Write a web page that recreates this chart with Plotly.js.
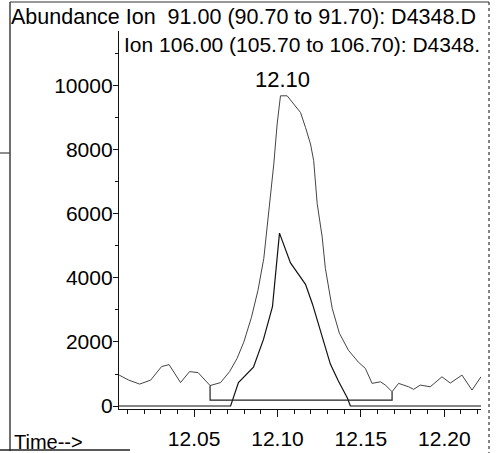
<!DOCTYPE html>
<html>
<head>
<meta charset="utf-8">
<script src="https://cdn.plot.ly/plotly-3.0.1.min.js"></script>
<style>
  html, body { margin: 0; padding: 0; background: #fff; }
  #chart { width: 497px; height: 453px; }
</style>
</head>
<body>
<div id="chart"></div>
<script>
// Extracted ion chromatogram, m/z 91 (retention time in min, abundance)
const times91 = [12.0051, 12.0108, 12.0174, 12.0240, 12.0305, 12.0350, 12.0419, 12.0473,
  12.0524, 12.0596, 12.0659, 12.0713, 12.0757, 12.0798, 12.0844, 12.0883, 12.0918,
  12.0948, 12.0978, 12.0998, 12.1018, 12.1058, 12.1088, 12.1138, 12.1168, 12.1198,
  12.1217, 12.1228, 12.1238, 12.1268, 12.1287, 12.1328, 12.1371, 12.1425, 12.1485,
  12.1527, 12.1567, 12.1617, 12.1647, 12.1687, 12.1726, 12.1786, 12.1816, 12.1856,
  12.1916, 12.1986, 12.2036, 12.2106, 12.2166, 12.2220];
const abund91 = [966, 810, 685, 810, 1230, 1293, 732, 1075,
  1044, 639, 732, 1075, 1480, 1994, 2772, 3613, 4610,
  6012, 7560, 8806, 9688, 9688, 9479, 9167, 8700, 8183,
  7663, 7040, 6323, 5274, 4299, 3053, 2274, 1744, 1371,
  1174, 707, 757, 654, 445, 707, 601, 520, 654,
  601, 913, 716, 966, 498, 913];

// Extracted ion chromatogram, m/z 106
const times106 = [12.0050, 12.0719, 12.0766, 12.0820, 12.0856, 12.0916, 12.0970, 12.1012,
  12.1078, 12.1120, 12.1168, 12.1210, 12.1246, 12.1275, 12.1317, 12.1365, 12.1419,
  12.1437, 12.2220];
const abund106 = [0, 0, 736, 1024, 1216, 2080, 3100, 5400,
  4470, 4160, 3800, 3180, 2560, 2030, 1310, 780, 250,
  0, 0];

// Integration of the m/z 91 peak: start/end scan indices and baseline level
const intStartIdx = 9;
const intEndIdx = 39;
const intBaseline = 187;

// Axis ticks
const xTickVals = [12.05, 12.10, 12.15, 12.20];
const xTickText = ['12.05', '12.10', '12.15', '12.20'];
const yTickVals = [0, 2000, 4000, 6000, 8000, 10000];
const yTickText = ['0', '2000', '4000', '6000', '8000', '10000'];

// Header text
const header1 = 'Abundance Ion  91.00 (90.70 to 91.70): D4348.D';
const header2 = 'Ion 106.00 (105.70 to 106.70): D4348.';
const xLabel = 'Time-->';

const FONT = '"Liberation Sans", Arial, Helvetica, sans-serif';

// apex of the m/z 91 peak
let apexIdx = 0;
abund91.forEach((v, i) => { if (v > abund91[apexIdx]) apexIdx = i; });
const apexLabel = times91[apexIdx].toFixed(2);

const baseX = [times91[intStartIdx], times91[intStartIdx], times91[intEndIdx], times91[intEndIdx]];
const baseY = [abund91[intStartIdx], intBaseline, intBaseline, abund91[intEndIdx]];

const traces = [
  {
    x: times91, y: abund91, type: 'scatter', mode: 'lines',
    line: { color: '#444', width: 1 }, hoverinfo: 'skip'
  },
  {
    x: times106, y: abund106, type: 'scatter', mode: 'lines',
    line: { color: '#111', width: 1.2 }, hoverinfo: 'skip'
  },
  {
    x: baseX, y: baseY, type: 'scatter', mode: 'lines',
    line: { color: '#222', width: 1.2 }, hoverinfo: 'skip'
  }
];

const layout = {
  width: 497, height: 453,
  margin: { l: 119, r: 16, t: 31, b: 44 },
  paper_bgcolor: '#fff', plot_bgcolor: '#fff',
  showlegend: false,
  font: { family: FONT, size: 21, color: '#000' },
  xaxis: {
    range: [12.005, 12.222],
    showgrid: false, zeroline: false,
    showline: true, linecolor: '#111', linewidth: 1.2,
    ticks: 'outside', ticklen: 7, tickwidth: 1, tickcolor: '#111',
    tickmode: 'array', tickvals: xTickVals, ticktext: xTickText,
    ticklabelstandoff: 4,
    tickfont: { family: FONT, size: 21, color: '#000' },
    minor: { dtick: 0.01, tick0: 12.0, ticks: 'outside', ticklen: 4, tickcolor: '#111', tickwidth: 1 },
    fixedrange: true
  },
  yaxis: {
    range: [-93, 11712],
    showgrid: false, zeroline: false,
    showline: true, linecolor: '#111', linewidth: 1.2,
    ticks: 'outside', ticklen: 5, tickwidth: 1, tickcolor: '#111',
    tickmode: 'array', tickvals: yTickVals, ticktext: yTickText,
    ticklabelstandoff: -4,
    tickfont: { family: FONT, size: 21, color: '#000' },
    minor: { dtick: 1000, ticks: 'outside', ticklen: 3, tickcolor: '#111', tickwidth: 1 },
    fixedrange: true
  },
  annotations: [
    {
      xref: 'x', yref: 'y', x: times91[apexIdx] + 0.001, y: abund91[apexIdx],
      text: apexLabel, showarrow: false, xanchor: 'center', yanchor: 'bottom', yshift: 2,
      font: { family: FONT, size: 22, color: '#000' }
    },
    {
      xref: 'paper', yref: 'paper', x: -110 / 362, y: 1 + 14 / 378,
      text: header1, showarrow: false, xanchor: 'left', yanchor: 'middle',
      font: { family: FONT, size: 21.5, color: '#000' }
    },
    {
      xref: 'paper', yref: 'paper', x: 3 / 362, y: 1 - 14 / 378,
      text: header2, showarrow: false, xanchor: 'left', yanchor: 'middle',
      font: { family: FONT, size: 21, color: '#000' }
    },
    {
      xref: 'paper', yref: 'paper', x: -107 / 362, y: -33 / 378,
      text: xLabel, showarrow: false, xanchor: 'left', yanchor: 'middle',
      font: { family: FONT, size: 20, color: '#000' }
    }
  ],
  shapes: [
    // page frame
    { type: 'line', xref: 'paper', yref: 'paper', x0: -109 / 362, x1: -109 / 362, y0: 1 + 29 / 378, y1: -42 / 378, line: { color: '#222', width: 1.3 } },
    { type: 'line', xref: 'paper', yref: 'paper', x0: -109 / 362, x1: 370 / 362, y0: 1 + 29 / 378, y1: 1 + 29 / 378, line: { color: '#333', width: 1.2 } },
    { type: 'line', xref: 'paper', yref: 'paper', x0: 370 / 362, x1: 370 / 362, y0: 1 + 29 / 378, y1: -44 / 378, line: { color: '#333', width: 1.2, dash: 'dot' } },
    { type: 'line', xref: 'paper', yref: 'paper', x0: -119 / 362, x1: 11 / 362, y0: -41 / 378, y1: -41 / 378, line: { color: '#222', width: 1.3 } },
    { type: 'line', xref: 'paper', yref: 'paper', x0: -119 / 362, x1: -109 / 362, y0: 1 - 122 / 378, y1: 1 - 122 / 378, line: { color: '#444', width: 1.2 } }
  ]
};

Plotly.newPlot('chart', traces, layout, { staticPlot: true, displayModeBar: false });
</script>
</body>
</html>
